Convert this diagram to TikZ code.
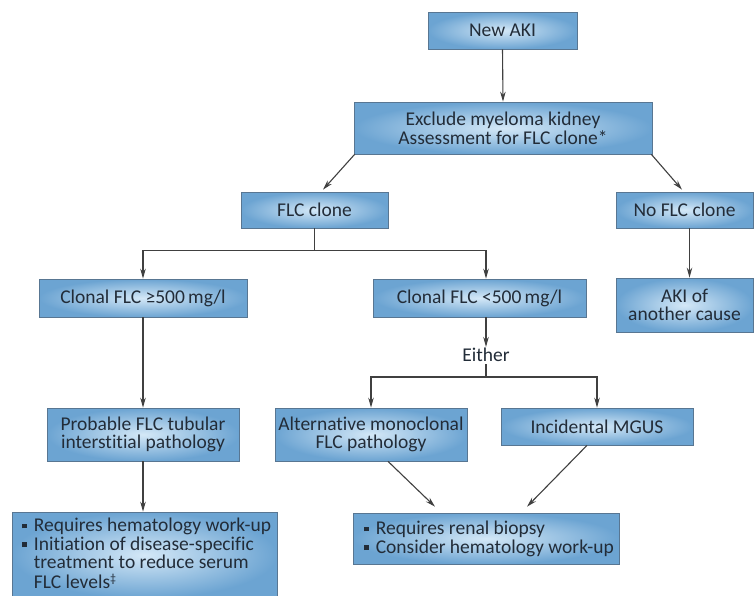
\documentclass[tikz,border=0pt]{standalone}
\usepackage{fontspec}
\setmainfont{Carlito}[RawFeature={-liga}]
\usetikzlibrary{arrows.meta,calc}
\definecolor{boxout}{RGB}{108,164,210}
\definecolor{boxin}{RGB}{212,232,247}
\definecolor{boxline}{RGB}{88,118,146}
\definecolor{txt}{RGB}{34,44,56}
\definecolor{arr}{RGB}{64,64,64}
\newcommand{\sqb}{\makebox[0.6em][l]{\rule[0.17em]{0.24em}{0.24em}}}
\newcommand{\hind}{\hspace*{0.6em}}
\newcommand{\dagmark}{\raisebox{0.3em}{\fontsize{12}{12}\selectfont ‡}}
\begin{document}
\begin{tikzpicture}[x=1pt,y=-1pt,
  box/.style={draw=boxline, line width=0.7pt, shading=radial, inner color=boxin, outer color=boxout, text=txt, align=center, inner sep=0pt, font=\fontsize{19.5}{18.6}\selectfont},
  plain/.style={text=txt, inner sep=0pt, font=\fontsize{19.5}{18.6}\selectfont},
  conn/.style={draw=arr, line width=1.1pt},
  arrow/.style={conn, -{Stealth[length=10pt,width=5.5pt]}}]
\useasboundingbox (0,0) rectangle (754,595);
\fill[white] (0,0) rectangle (754,595);
\clip (0,0) rectangle (754,595);

\node[box, minimum width=149pt, minimum height=37pt] (newaki) at (502.5,30.5) {New AKI};
\node[box, minimum width=298pt, minimum height=52pt] (excl) at (503,128) {Exclude myeloma kidney\\Assessment for FLC clone*};
\node[box, minimum width=147pt, minimum height=36pt] (flc) at (314.5,210) {FLC clone};
\node[box, minimum width=137pt, minimum height=36pt] (noflc) at (684.5,210) {No FLC clone};
\node[box, minimum width=208pt, minimum height=38pt] (ge500) at (143,298) {Clonal FLC ≥500\,mg/l};
\node[box, minimum width=213pt, minimum height=38pt] (lt500) at (479.5,298) {Clonal FLC <500\,mg/l};
\node[box, minimum width=137pt, minimum height=54pt] (another) at (684.5,305) {AKI of\\another cause};
\node[plain] (either) at (486,355) {Either};
\node[box, minimum width=192pt, minimum height=53pt] (prob) at (143,434.5) {Probable FLC tubular\\interstitial pathology};
\node[box, minimum width=192pt, minimum height=53pt] (alt) at (371,434.5) {Alternative monoclonal\\FLC pathology};
\node[box, minimum width=192pt, minimum height=37pt] (mgus) at (597,426.5) {Incidental MGUS};
\node[box, minimum width=265pt, minimum height=86pt] (bl) at (144.5,555) {};
\node[plain, align=left, anchor=north west] (bltext) at (22,518) {\sqb Requires hematology work-up\\\sqb Initiation of disease-specific\\\hind treatment to reduce serum\\[1pt]\hind FLC levels\dagmark};
\node[box, minimum width=266pt, minimum height=51pt] (br) at (486,538.5) {};
\node[plain, align=left] (brtext) at (489,539) {\sqb Requires renal biopsy\\\sqb Consider hematology work-up};

\draw[arrow] (newaki.south) -- (excl.north);
\draw[arrow] ($(excl.south west)+(1,0)$) -- ($(flc.north)+(8.5,-2)$);
\draw[arrow] ($(excl.south east)+(-1,0)$) -- ($(noflc.north)+(-2.5,-2)$);
\draw[arrow] ($(noflc.south)+(5,0)$) -- ($(another.north)+(5,0)$);
\draw[arrow] (flc.south) -- ++(0,22) -| (ge500.north);
\draw[arrow] (flc.south) -- ++(0,22) -| ($(lt500.north)+(6.5,0)$);
\draw[arrow] ($(lt500.south)+(6.5,0)$) -- ($(either.north)+(0,-1)$);
\coordinate (ef) at (486,377);
\draw[conn] ($(either.south)+(0,2)$) -- (ef);
\draw[arrow] (ef) -| (alt.north);
\draw[arrow] (ef) -| (mgus.north);
\draw[arrow] (ge500.south) -- (prob.north);
\draw[arrow] (prob.south) -- (prob.south |- bl.north);
\draw[arrow] ($(alt.south)+(17,0)$) -- ($(br.north)+(-51,-6)$);
\draw[arrow] ($(mgus.south)+(-10,0)$) -- ($(br.north)+(41,-6)$);
\end{tikzpicture}
\end{document}
